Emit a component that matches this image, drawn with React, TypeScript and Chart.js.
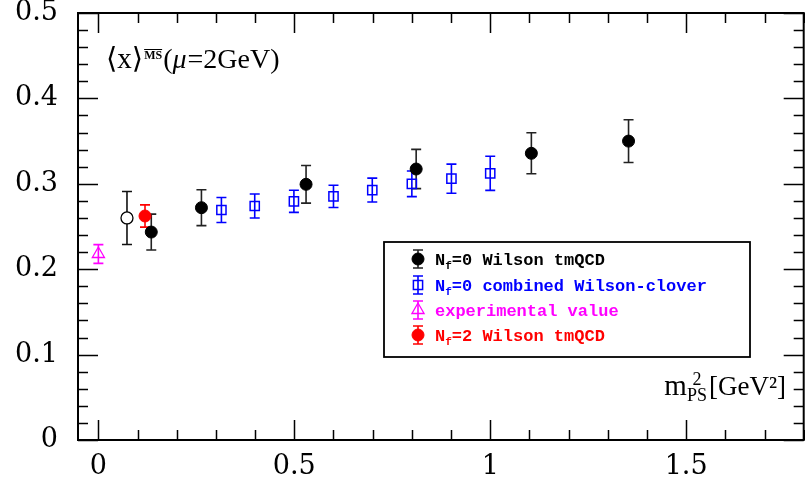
import React, { useEffect, useRef } from 'react';
import { Chart, registerables } from 'chart.js';

Chart.register(...registerables);

// ---- data ----
// N_f=0 Wilson tmQCD
const tmX = [0.135, 0.263, 0.530, 0.811, 1.105, 1.353];
const tmY = [0.2435, 0.272, 0.2994, 0.3173, 0.3357, 0.350];
const tmErr = [0.021, 0.021, 0.022, 0.023, 0.024, 0.025];
// N_f=0 tmQCD chirally extrapolated point (open circle)
const chiX = [0.073];
const chiY = [0.260];
const chiErr = [0.031];
// N_f=0 combined Wilson-clover
const wcX = [0.314, 0.399, 0.499, 0.600, 0.699, 0.800, 0.901, 1.0];
const wcY = [0.2693, 0.274, 0.2795, 0.2853, 0.2927, 0.300, 0.306, 0.3123];
const wcErr = [0.0146, 0.014, 0.013, 0.013, 0.014, 0.015, 0.017, 0.020];
// experimental value
const expX = [0.0];
const expY = [0.2178];
const expErr = [0.011];
// N_f=2 Wilson tmQCD
const nf2X = [0.119];
const nf2Y = [0.2623];
const nf2Err = [0.013];

// ---- axes ----
const xMin = -0.052;
const xMax = 1.8;
const yMin = 0;
const yMax = 0.5;
const xTickValues = [0, 0.5, 1, 1.5];
const xTickLabels = ['0', '0.5', '1', '1.5'];
const yTickValues = [0, 0.1, 0.2, 0.3, 0.4, 0.5];
const yTickLabels = ['0', '0.1', '0.2', '0.3', '0.4', '0.5'];
const xMinorStep = 0.1;
const yMinorStep = 0.02;

// ---- legend ----
const legendLabels = [
  { pre: 'N', sub: 'f', rest: '=0 Wilson tmQCD', color: '#000000', key: 'tm' },
  { pre: 'N', sub: 'f', rest: '=0 combined Wilson-clover', color: '#0000ff', key: 'wc' },
  { pre: '', sub: '', rest: 'experimental value', color: '#ff00ff', key: 'exp' },
  { pre: 'N', sub: 'f', rest: '=2 Wilson tmQCD', color: '#ff0000', key: 'nf2' },
];

type Series = {
  key: string;
  xs: number[];
  ys: number[];
  err: number[];
  color: string;
  barColor: string;
  style: 'circle' | 'rect' | 'triangle';
  fill: string;
  radius: number;
  borderWidth: number;
};

const series: Series[] = [
  { key: 'exp', xs: expX, ys: expY, err: expErr, color: '#ff00ff', barColor: '#ff00ff', style: 'triangle', fill: 'rgba(0,0,0,0)', radius: 7, borderWidth: 1.3 },
  { key: 'wc', xs: wcX, ys: wcY, err: wcErr, color: '#0000ff', barColor: '#0000ff', style: 'rect', radius: 6.5, fill: 'rgba(0,0,0,0)', borderWidth: 1.5 },
  { key: 'chi', xs: chiX, ys: chiY, err: chiErr, color: '#000000', barColor: '#111111', style: 'circle', radius: 6, fill: '#ffffff', borderWidth: 1.3 },
  { key: 'tm', xs: tmX, ys: tmY, err: tmErr, color: '#000000', barColor: '#222222', style: 'circle', radius: 6, fill: '#000000', borderWidth: 1 },
  { key: 'nf2', xs: nf2X, ys: nf2Y, err: nf2Err, color: '#ff0000', barColor: '#ff0000', style: 'circle', radius: 6, fill: '#ff0000', borderWidth: 1 },
];

const CAP = 5;
const TEXT_SERIF = '"Liberation Serif", "DejaVu Serif", serif';
const TICK_FONT = '"DejaVu Serif", serif';
const MONO = '"Liberation Mono", "DejaVu Sans Mono", monospace';

function drawMarker(ctx: CanvasRenderingContext2D, s: Series, px: number, py: number) {
  ctx.save();
  ctx.lineWidth = s.borderWidth;
  ctx.strokeStyle = s.color;
  ctx.fillStyle = s.fill;
  ctx.beginPath();
  if (s.style === 'circle') {
    ctx.arc(px, py, s.radius, 0, Math.PI * 2);
  } else if (s.style === 'rect') {
    const h = s.radius * Math.SQRT1_2;
    ctx.rect(px - h, py - h, 2 * h, 2 * h);
  } else {
    const r = s.radius;
    ctx.moveTo(px, py - r);
    ctx.lineTo(px + r * Math.sin((2 * Math.PI) / 3), py - r * Math.cos((2 * Math.PI) / 3));
    ctx.lineTo(px + r * Math.sin((4 * Math.PI) / 3), py - r * Math.cos((4 * Math.PI) / 3));
    ctx.closePath();
  }
  ctx.fill();
  ctx.stroke();
  ctx.restore();
}

function drawBar(ctx: CanvasRenderingContext2D, color: string, px: number, pTop: number, pBot: number) {
  ctx.save();
  ctx.strokeStyle = color;
  ctx.lineWidth = 1.6;
  ctx.beginPath();
  ctx.moveTo(px, pTop);
  ctx.lineTo(px, pBot);
  ctx.moveTo(px - CAP, pTop);
  ctx.lineTo(px + CAP, pTop);
  ctx.moveTo(px - CAP, pBot);
  ctx.lineTo(px + CAP, pBot);
  ctx.stroke();
  ctx.restore();
}

const errorBarPlugin = {
  id: 'errorBars',
  beforeDatasetsDraw(chart: any) {
    const { ctx, scales } = chart;
    const xs = scales.x;
    const ys = scales.y;
    series.forEach((s) => {
      s.xs.forEach((xv, i) => {
        const px = xs.getPixelForValue(xv);
        const pt = ys.getPixelForValue(s.ys[i] + s.err[i]);
        const pb = ys.getPixelForValue(s.ys[i] - s.err[i]);
        drawBar(ctx, s.barColor, px, pt, pb);
      });
    });
  },
};

const framePlugin = {
  id: 'frame',
  afterDatasetsDraw(chart: any) {
    const { ctx, chartArea, scales } = chart;
    const { left, right, top, bottom } = chartArea;
    const xs = scales.x;
    const ys = scales.y;
    ctx.save();
    // frame
    ctx.strokeStyle = '#000';
    ctx.lineWidth = 2;
    ctx.strokeRect(left, top, right - left, bottom - top);
    // ticks
    ctx.lineWidth = 1.5;
    ctx.beginPath();
    const nX = Math.floor((xMax + 1e-9) / xMinorStep);
    for (let i = 0; i <= nX; i++) {
      const v = i * xMinorStep;
      const major = Math.abs(v / 0.5 - Math.round(v / 0.5)) < 1e-6;
      const len = major ? 20 : 10;
      const px = Math.round(xs.getPixelForValue(v)) + 0.5;
      ctx.moveTo(px, bottom);
      ctx.lineTo(px, bottom - len);
      ctx.moveTo(px, top);
      ctx.lineTo(px, top + len);
    }
    const nY = Math.floor((yMax + 1e-9) / yMinorStep);
    for (let i = 0; i <= nY; i++) {
      const v = i * yMinorStep;
      const major = Math.abs(v / 0.1 - Math.round(v / 0.1)) < 1e-6;
      const len = major ? 20 : 10;
      const py = Math.round(ys.getPixelForValue(v)) + 0.5;
      ctx.moveTo(left, py);
      ctx.lineTo(left + len, py);
      ctx.moveTo(right, py);
      ctx.lineTo(right - len, py);
    }
    ctx.stroke();

    // top-left label  <x>^{MS-bar}(mu=2GeV)
    ctx.fillStyle = '#000';
    ctx.textBaseline = 'alphabetic';
    ctx.textAlign = 'left';
    let tx = 106;
    const tb = 68;
    ctx.font = `29px ${TEXT_SERIF}`;
    const part1 = '⟨x⟩';
    ctx.fillText(part1, tx, tb);
    tx += ctx.measureText(part1).width + 1;
    ctx.font = `bold 12px ${TEXT_SERIF}`;
    const ms = 'MS';
    ctx.fillText(ms, tx, tb - 9);
    const msw = ctx.measureText(ms).width;
    ctx.lineWidth = 1;
    ctx.beginPath();
    ctx.moveTo(tx, tb - 18.5);
    ctx.lineTo(tx + msw, tb - 18.5);
    ctx.stroke();
    tx += msw + 1;
    ctx.font = `28px ${TEXT_SERIF}`;
    ctx.fillText('(', tx, tb);
    tx += ctx.measureText('(').width;
    ctx.font = `italic 28px ${TEXT_SERIF}`;
    ctx.fillText('μ', tx, tb);
    tx += ctx.measureText('μ').width + 1;
    ctx.font = `28px ${TEXT_SERIF}`;
    ctx.fillText('=2GeV)', tx, tb);

    // x-axis title  m^2_PS [GeV^2]
    const ab = 395;
    ctx.font = `29px ${TEXT_SERIF}`;
    const mW = ctx.measureText('m').width;
    ctx.font = `27px ${TEXT_SERIF}`;
    const tail = '[GeV²]';
    const tailW = ctx.measureText(tail).width;
    ctx.font = `18px ${TEXT_SERIF}`;
    const supW = ctx.measureText('2').width;
    const subW = ctx.measureText('PS').width;
    const stackW = Math.max(supW, subW) + 2;
    const total = mW + stackW + tailW;
    let ax = 786 - total;
    ctx.font = `29px ${TEXT_SERIF}`;
    ctx.fillText('m', ax, ab);
    ax += mW;
    ctx.font = `18px ${TEXT_SERIF}`;
    ctx.fillText('2', ax + (subW - supW) / 2, ab - 10);
    ctx.fillText('PS', ax, ab + 6);
    ax += stackW;
    ctx.font = `27px ${TEXT_SERIF}`;
    ctx.fillText(tail, ax, ab);

    // legend
    ctx.lineWidth = 1.8;
    ctx.strokeStyle = '#000';
    ctx.strokeRect(384, 242, 366, 115);
    const rowsY = [259, 285, 310, 335];
    legendLabels.forEach((l, i) => {
      const s = series.find((q) => q.key === l.key)!;
      const cy = rowsY[i];
      drawBar(ctx, s.barColor, 418, cy - 9, cy + 9);
      drawMarker(ctx, s, 418, cy);
      ctx.fillStyle = l.color;
      let lx = 435;
      const lb = cy + 6;
      ctx.font = `bold 17px ${MONO}`;
      if (l.pre) {
        ctx.fillText(l.pre, lx, lb);
        lx += ctx.measureText(l.pre).width;
        ctx.font = `bold 11px ${MONO}`;
        ctx.fillText(l.sub, lx, lb + 4);
        lx += ctx.measureText(l.sub).width;
        ctx.font = `bold 17px ${MONO}`;
      }
      ctx.fillText(l.rest, lx, lb);
    });
    ctx.restore();
  },
};

export default function App() {
  const canvasRef = useRef<HTMLCanvasElement | null>(null);

  useEffect(() => {
    const canvas = canvasRef.current;
    if (!canvas) return;
    const datasets = series.map((s) => ({
      label: s.key,
      data: s.xs.map((x, i) => ({ x, y: s.ys[i] })),
      pointStyle: s.style,
      pointRadius: s.radius,
      pointHoverRadius: s.radius,
      pointBackgroundColor: s.fill,
      pointBorderColor: s.color,
      pointBorderWidth: s.borderWidth,
      showLine: false,
    }));
    const chart = new Chart(canvas, {
      type: 'scatter',
      data: { datasets },
      options: {
        animation: false,
        responsive: false,
        events: [],
        layout: { padding: { top: 13, right: 1.5, bottom: 0, left: 0 } },
        plugins: {
          legend: { display: false },
          tooltip: { enabled: false },
          title: { display: false },
        },
        scales: {
          x: {
            type: 'linear',
            min: xMin,
            max: xMax,
            grid: { display: false, drawTicks: false },
            border: { display: false },
            afterBuildTicks: (sc: any) => {
              sc.ticks = xTickValues.map((v) => ({ value: v }));
            },
            afterFit: (sc: any) => {
              sc.height = 50;
              sc.paddingLeft = 0;
              sc.paddingRight = 0;
            },
            ticks: {
              autoSkip: false,
              maxRotation: 0,
              padding: 11,
              color: '#000',
              font: { family: TICK_FONT, size: 27 },
              callback: (v: any) => {
                const i = xTickValues.findIndex((t) => Math.abs(t - Number(v)) < 1e-9);
                return i >= 0 ? xTickLabels[i] : '';
              },
            },
          },
          y: {
            type: 'linear',
            min: yMin,
            max: yMax,
            grid: { display: false, drawTicks: false },
            border: { display: false },
            afterBuildTicks: (sc: any) => {
              sc.ticks = yTickValues.map((v) => ({ value: v }));
            },
            afterFit: (sc: any) => {
              sc.width = 78;
              sc.paddingTop = 0;
              sc.paddingBottom = 0;
            },
            ticks: {
              autoSkip: false,
              padding: 20,
              color: '#000',
              font: { family: TICK_FONT, size: 27 },
              callback: (v: any) => {
                const i = yTickValues.findIndex((t) => Math.abs(t - Number(v)) < 1e-9);
                return i >= 0 ? yTickLabels[i] : '';
              },
            },
          },
        },
      },
      plugins: [errorBarPlugin, framePlugin],
    } as any);
    return () => chart.destroy();
  }, []);

  return (
    <div
      style={{
        position: 'absolute',
        left: 0,
        top: 0,
        width: 805,
        height: 490,
        overflow: 'hidden',
        background: '#fff',
      }}
    >
      <canvas ref={canvasRef} width={812} height={490} style={{ display: 'block', width: 812, height: 490 }} />
    </div>
  );
}
